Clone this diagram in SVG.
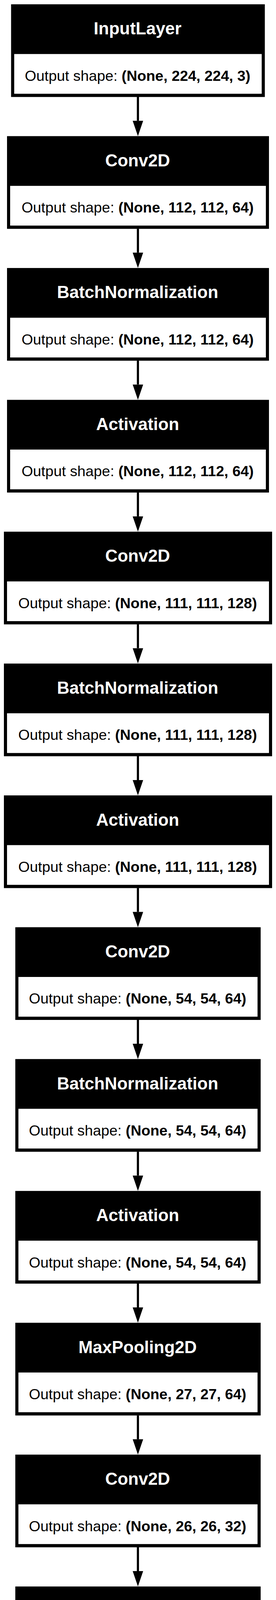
<svg xmlns="http://www.w3.org/2000/svg" width="707" height="6335" viewBox="0 0 707 6335">
<style>
.box{fill:#000}
.inner{fill:#fff}
.title{font-family:"Liberation Sans",Arial,Helvetica,sans-serif;font-weight:bold;font-size:44px;fill:#fff;text-anchor:middle}
.out{font-family:"Liberation Sans",Arial,Helvetica,sans-serif;font-size:37.8px;fill:#000;text-anchor:middle}
.out tspan{font-weight:bold}
.edge{stroke:#000;stroke-width:5.5;fill:none}
</style>
<defs>
<marker id="ah" markerUnits="userSpaceOnUse" markerWidth="40" markerHeight="28" viewBox="0 0 40 28" refX="0" refY="13.4" orient="auto" overflow="visible">
<path d="M0,0 L39.2,13.4 L0,26.8 z" fill="#000"/>
</marker>
</defs>
<rect width="707" height="6335" fill="#fff"/>
<g id="connectors">
<line class="edge" marker-end="url(#ah)" x1="353.3" y1="248" x2="353.3" y2="309.3"/>
<line class="edge" marker-end="url(#ah)" x1="353.3" y1="585.5" x2="353.3" y2="646.8"/>
<line class="edge" marker-end="url(#ah)" x1="353.3" y1="923.1" x2="353.3" y2="984.4"/>
<line class="edge" marker-end="url(#ah)" x1="353.3" y1="1260.6" x2="353.3" y2="1321.9"/>
<line class="edge" marker-end="url(#ah)" x1="353.3" y1="1598.1" x2="353.3" y2="1659.4"/>
<line class="edge" marker-end="url(#ah)" x1="353.3" y1="1935.7" x2="353.3" y2="1997.0"/>
<line class="edge" marker-end="url(#ah)" x1="353.3" y1="2273.2" x2="353.3" y2="2334.5"/>
<line class="edge" marker-end="url(#ah)" x1="353.3" y1="2610.7" x2="353.3" y2="2672.0"/>
<line class="edge" marker-end="url(#ah)" x1="353.3" y1="2948.2" x2="353.3" y2="3009.5"/>
<line class="edge" marker-end="url(#ah)" x1="353.3" y1="3285.8" x2="353.3" y2="3347.1"/>
<line class="edge" marker-end="url(#ah)" x1="353.3" y1="3623.3" x2="353.3" y2="3684.6"/>
<line class="edge" marker-end="url(#ah)" x1="353.3" y1="3960.8" x2="353.3" y2="4022.1"/>
<line class="edge" marker-end="url(#ah)" x1="353.3" y1="4298.4" x2="353.3" y2="4359.7"/>
<line class="edge" marker-end="url(#ah)" x1="353.3" y1="4635.9" x2="353.3" y2="4697.2"/>
<line class="edge" marker-end="url(#ah)" x1="353.3" y1="4973.4" x2="353.3" y2="5034.7"/>
<line class="edge" marker-end="url(#ah)" x1="353.3" y1="5311.0" x2="353.3" y2="5372.3"/>
<line class="edge" marker-end="url(#ah)" x1="353.3" y1="5648.5" x2="353.3" y2="5709.8"/>
<line class="edge" marker-end="url(#ah)" x1="353.3" y1="5986.0" x2="353.3" y2="6047.3"/>
</g>
<g id="node0">
<rect class="box" x="28.4" y="11" width="650" height="237.3"/>
<rect class="inner" x="36.4" y="138.3" width="634" height="101.7"/>
<text class="title" x="352.5" y="88.3">InputLayer</text>
<text class="out" x="352.5" y="206.7">Output shape: <tspan>(None, 224, 224, 3)</tspan></text>
</g>
<g id="node1">
<rect class="box" x="18" y="348.5" width="671" height="237.3"/>
<rect class="inner" x="26" y="475.8" width="655" height="101.7"/>
<text class="title" x="352.5" y="425.8">Conv2D</text>
<text class="out" x="352.5" y="544.2">Output shape: <tspan>(None, 112, 112, 64)</tspan></text>
</g>
<g id="node2">
<rect class="box" x="18" y="686.1" width="671" height="237.3"/>
<rect class="inner" x="26" y="813.4" width="655" height="101.7"/>
<text class="title" x="352.5" y="763.4">BatchNormalization</text>
<text class="out" x="352.5" y="881.8">Output shape: <tspan>(None, 112, 112, 64)</tspan></text>
</g>
<g id="node3">
<rect class="box" x="18" y="1023.6" width="671" height="237.3"/>
<rect class="inner" x="26" y="1150.9" width="655" height="101.7"/>
<text class="title" x="352.5" y="1100.9">Activation</text>
<text class="out" x="352.5" y="1219.3">Output shape: <tspan>(None, 112, 112, 64)</tspan></text>
</g>
<g id="node4">
<rect class="box" x="10" y="1361.1" width="687" height="237.3"/>
<rect class="inner" x="18" y="1488.4" width="671" height="101.7"/>
<text class="title" x="352.5" y="1438.4">Conv2D</text>
<text class="out" x="352.5" y="1556.8">Output shape: <tspan>(None, 111, 111, 128)</tspan></text>
</g>
<g id="node5">
<rect class="box" x="10" y="1698.7" width="687" height="237.3"/>
<rect class="inner" x="18" y="1826" width="671" height="101.7"/>
<text class="title" x="352.5" y="1776">BatchNormalization</text>
<text class="out" x="352.5" y="1894.4">Output shape: <tspan>(None, 111, 111, 128)</tspan></text>
</g>
<g id="node6">
<rect class="box" x="10" y="2036.2" width="687" height="237.3"/>
<rect class="inner" x="18" y="2163.5" width="671" height="101.7"/>
<text class="title" x="352.5" y="2113.5">Activation</text>
<text class="out" x="352.5" y="2231.9">Output shape: <tspan>(None, 111, 111, 128)</tspan></text>
</g>
<g id="node7">
<rect class="box" x="39.2" y="2373.7" width="628.5" height="237.3"/>
<rect class="inner" x="47.2" y="2501" width="612.5" height="101.7"/>
<text class="title" x="352.5" y="2451">Conv2D</text>
<text class="out" x="352.5" y="2569.4">Output shape: <tspan>(None, 54, 54, 64)</tspan></text>
</g>
<g id="node8">
<rect class="box" x="39.2" y="2711.2" width="628.5" height="237.3"/>
<rect class="inner" x="47.2" y="2838.5" width="612.5" height="101.7"/>
<text class="title" x="352.5" y="2788.5">BatchNormalization</text>
<text class="out" x="352.5" y="2906.9">Output shape: <tspan>(None, 54, 54, 64)</tspan></text>
</g>
<g id="node9">
<rect class="box" x="39.2" y="3048.8" width="628.5" height="237.3"/>
<rect class="inner" x="47.2" y="3176.1" width="612.5" height="101.7"/>
<text class="title" x="352.5" y="3126.1">Activation</text>
<text class="out" x="352.5" y="3244.5">Output shape: <tspan>(None, 54, 54, 64)</tspan></text>
</g>
<g id="node10">
<rect class="box" x="39.2" y="3386.3" width="628.5" height="237.3"/>
<rect class="inner" x="47.2" y="3513.6" width="612.5" height="101.7"/>
<text class="title" x="352.5" y="3463.6">MaxPooling2D</text>
<text class="out" x="352.5" y="3582">Output shape: <tspan>(None, 27, 27, 64)</tspan></text>
</g>
<g id="node11">
<rect class="box" x="39.2" y="3723.8" width="628.5" height="237.3"/>
<rect class="inner" x="47.2" y="3851.1" width="612.5" height="101.7"/>
<text class="title" x="352.5" y="3801.1">Conv2D</text>
<text class="out" x="352.5" y="3919.5">Output shape: <tspan>(None, 26, 26, 32)</tspan></text>
</g>
<g id="node12">
<rect class="box" x="39.2" y="4061.4" width="628.5" height="237.3"/>
<rect class="inner" x="47.2" y="4188.7" width="612.5" height="101.7"/>
<text class="title" x="352.5" y="4138.7">BatchNormalization</text>
<text class="out" x="352.5" y="4257.1">Output shape: <tspan>(None, 26, 26, 32)</tspan></text>
</g>
<g id="node13">
<rect class="box" x="39.2" y="4398.9" width="628.5" height="237.3"/>
<rect class="inner" x="47.2" y="4526.2" width="612.5" height="101.7"/>
<text class="title" x="352.5" y="4476.2">Activation</text>
<text class="out" x="352.5" y="4594.6">Output shape: <tspan>(None, 26, 26, 32)</tspan></text>
</g>
<g id="node14">
<rect class="box" x="39.2" y="4736.4" width="628.5" height="237.3"/>
<rect class="inner" x="47.2" y="4863.7" width="612.5" height="101.7"/>
<text class="title" x="352.5" y="4813.7">Conv2D</text>
<text class="out" x="352.5" y="4932.1">Output shape: <tspan>(None, 12, 12, 16)</tspan></text>
</g>
<g id="node15">
<rect class="box" x="39.2" y="5074" width="628.5" height="237.3"/>
<rect class="inner" x="47.2" y="5201.3" width="612.5" height="101.7"/>
<text class="title" x="352.5" y="5151.3">BatchNormalization</text>
<text class="out" x="352.5" y="5269.7">Output shape: <tspan>(None, 12, 12, 16)</tspan></text>
</g>
<g id="node16">
<rect class="box" x="39.2" y="5411.5" width="628.5" height="237.3"/>
<rect class="inner" x="47.2" y="5538.8" width="612.5" height="101.7"/>
<text class="title" x="352.5" y="5488.8">Activation</text>
<text class="out" x="352.5" y="5607.2">Output shape: <tspan>(None, 12, 12, 16)</tspan></text>
</g>
<g id="node17">
<rect class="box" x="80" y="5749" width="546.7" height="237.3"/>
<rect class="inner" x="88" y="5876.3" width="530.7" height="101.7"/>
<text class="title" x="352.5" y="5826.3">Flatten</text>
<text class="out" x="352.5" y="5944.7">Output shape: <tspan>(None, 2304)</tspan></text>
</g>
<g id="node18">
<rect class="box" x="112" y="6086.5" width="483" height="237.3"/>
<rect class="inner" x="120" y="6213.8" width="467" height="101.7"/>
<text class="title" x="352.5" y="6163.8">Dense</text>
<text class="out" x="352.5" y="6282.2">Output shape: <tspan>(None, 1)</tspan></text>
</g>
</svg>
